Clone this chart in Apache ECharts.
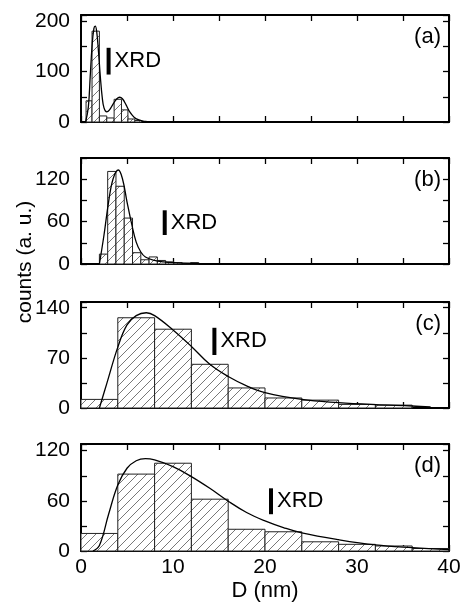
<!DOCTYPE html>
<html>
<head>
<meta charset="utf-8">
<script src="https://cdn.jsdelivr.net/npm/echarts@6/dist/echarts.min.js"></script>
<style>
  html, body { margin: 0; padding: 0; background: #fff; }
  #main { width: 464px; height: 604px; }
</style>
</head>
<body>
<div id="main"></div>
<script>
// histogram bins (edges) and counts
var aEdges = [0.55, 1.2, 2.0, 2.8, 3.6, 4.4, 5.1, 5.85, 6.6];
var aCounts = [42, 180, 12, 8, 45, 24, 6, 3];
var bEdges = [2.0, 2.9, 3.8, 4.7, 5.6, 6.5, 7.4, 8.3, 9.2, 10.1, 11.0, 11.9, 12.8];
var bCounts = [14, 131, 110, 65, 16, 6, 10, 5, 3, 2, 1, 2];
var cEdges = [0, 4, 8, 12, 16, 20, 24, 28, 32, 36];
var cCounts = [12, 126, 110, 61, 28, 14, 11, 5, 4];
var dEdges = [0, 4, 8, 12, 16, 20, 24, 28, 32, 36, 40];
var dCounts = [21, 92, 105, 62, 26, 23, 11, 8, 6, 3];

// fitted curves
var aFitX = [0.5, 0.8, 1.0, 1.2, 1.4, 1.55, 1.7, 1.9, 2.1, 2.3, 2.5, 2.8, 3.1, 3.5, 3.9, 4.2, 4.5, 4.9, 5.3, 5.8, 6.3, 7.0, 7.5];
var aFitY = [0, 30, 90, 150, 185, 190, 180, 140, 90, 50, 28, 20, 24, 36, 46, 49, 46, 34, 20, 9, 4, 1, 0];
var bFitX = [2.0, 2.5, 3.0, 3.5, 4.06, 4.5, 5.0, 5.5, 6.0, 6.5, 7.0, 8.0, 9.0, 10.0, 12.0, 14.0];
var bFitY = [0, 41, 88, 121, 133, 121, 88, 57, 31, 17, 10, 5, 3, 2, 1, 0.5];
var cFitX = [2.0, 2.8, 4, 5, 6, 7.1, 8, 10, 12, 14, 16, 18, 20, 24, 28, 32, 36, 38];
var cFitY = [0, 34, 85, 116, 129, 133, 129, 109, 86, 61, 44, 31, 21.5, 12, 7.5, 4.7, 2.8, 1.5];
var dFitX = [1.3, 2, 3, 4, 5, 6, 7, 8, 10, 12, 14, 16, 18, 20, 22, 24, 28, 32, 36, 40];
var dFitY = [0, 6.5, 44, 79, 99, 108, 110.6, 109, 101, 89, 75, 59.6, 46, 36, 28, 21.6, 13.5, 7.3, 4, 1.6];

// XRD markers
var xrdD = [3.0, 9.1, 14.5, 20.65];
var xrdLo = [94, 41, 74, 44];
var xrdHi = [147, 76, 112, 75];

var panelNames = ['(a)', '(b)', '(c)', '(d)'];
var yMax = [212, 150, 148, 128];
var yTickStep = [50, 30, 35, 30];
var yLabelStep = [100, 60, 70, 60];
var xTicks = [0, 10, 20, 30, 40];

var edges = [aEdges, bEdges, cEdges, dEdges];
var counts = [aCounts, bCounts, cCounts, dCounts];
var fitX = [aFitX, bFitX, cFitX, dFitX];
var fitY = [aFitY, bFitY, cFitY, dFitY];

var FONT = "'Liberation Sans', Arial, sans-serif";
var gridBoxes = [
  { top: 15, height: 107 },
  { top: 158, height: 106 },
  { top: 302, height: 106 },
  { top: 444, height: 107 }
];

// diagonal hatch pattern
function makeHatch() {
  var c = document.createElement("canvas");
  c.width = c.height = 9;
  var g = c.getContext("2d");
  g.fillStyle = "#fff";
  g.fillRect(0, 0, 9, 9);
  g.strokeStyle = "#555";
  g.lineWidth = 0.8;
  [0, 9, 18].forEach(function (k) {
    g.beginPath();
    g.moveTo(k + 1, -1);
    g.lineTo(k - 10, 10);
    g.stroke();
  });
  return c;
}
var hatch = makeHatch();

var grid = [], xAxis = [], yAxis = [], series = [], graphic = [];

gridBoxes.forEach(function (b, i) {
  grid.push({ left: 81, width: 368, top: b.top, height: b.height });
  var axLine = { onZero: false, lineStyle: { color: "#000", width: 2 } };
  var tick = { inside: true, length: 6, lineStyle: { color: "#000", width: 1.3 } };
  var last = i === 3;
  xAxis.push({
    gridIndex: i, type: "value", min: 0, max: 40, interval: 5, position: "bottom",
    axisLine: axLine, axisTick: tick, splitLine: { show: false },
    axisLabel: {
      show: last, margin: 6, color: "#000", fontSize: 21, fontFamily: FONT,
      formatter: function (v) { return xTicks.indexOf(v) >= 0 ? String(v) : ""; }
    }
  });
  xAxis.push({
    gridIndex: i, type: "value", min: 0, max: 40, interval: 5, position: "top",
    axisLine: axLine, axisTick: tick, splitLine: { show: false }, axisLabel: { show: false }
  });
  yAxis.push({
    gridIndex: i, type: "value", min: 0, max: yMax[i], interval: yTickStep[i], position: "left",
    axisLine: axLine, axisTick: tick, splitLine: { show: false },
    axisLabel: {
      margin: 11, color: "#000", fontSize: 21, fontFamily: FONT,
      formatter: function (v) { return v % yLabelStep[i] === 0 ? String(v) : ""; }
    }
  });
  yAxis.push({
    gridIndex: i, type: "value", min: 0, max: yMax[i], interval: yTickStep[i], position: "right",
    axisLine: axLine, axisTick: tick, splitLine: { show: false }, axisLabel: { show: false }
  });

  var bins = counts[i].map(function (n, k) { return [edges[i][k], edges[i][k + 1], n]; });
  series.push({
    type: "custom", xAxisIndex: 2 * i, yAxisIndex: 2 * i, data: bins,
    encode: { x: [0, 1], y: 2 }, silent: true,
    renderItem: function (params, api) {
      var p0 = api.coord([api.value(0), api.value(2)]);
      var p1 = api.coord([api.value(1), 0]);
      return {
        type: "rect",
        shape: { x: p0[0], y: p0[1], width: p1[0] - p0[0], height: p1[1] - p0[1] },
        style: { fill: { image: hatch, repeat: "repeat" }, stroke: "#222", lineWidth: 1 }
      };
    }
  });

  series.push({
    type: "line", xAxisIndex: 2 * i, yAxisIndex: 2 * i, smooth: 0.4, symbol: "none",
    lineStyle: { color: "#000", width: 1.3 }, z: 5, silent: true,
    data: fitX[i].map(function (x, k) { return [x, fitY[i][k]]; })
  });

  series.push({
    type: "line", xAxisIndex: 2 * i, yAxisIndex: 2 * i, symbol: "none", z: 6, silent: true,
    lineStyle: { color: "#000", width: 4 },
    data: [[xrdD[i], xrdLo[i]], [xrdD[i], xrdHi[i]]]
  });
  series.push({
    type: "scatter", xAxisIndex: 2 * i, yAxisIndex: 2 * i, symbolSize: 0, z: 6, silent: true,
    itemStyle: { opacity: 1 },
    label: { show: true, position: "right", distance: 6, formatter: "XRD", color: "#000", fontSize: 22, fontFamily: FONT },
    data: [[xrdD[i], (xrdLo[i] + xrdHi[i]) / 2]]
  });

  graphic.push({
    type: "text", x: 441, y: b.top + 22, silent: true,
    style: { text: panelNames[i], font: "22px " + FONT, fill: "#000", textAlign: "right", textVerticalAlign: "middle" }
  });
});

graphic.push({
  type: "text", x: 265, y: 591, silent: true,
  style: { text: "D (nm)", font: "22px " + FONT, fill: "#000", textAlign: "center", textVerticalAlign: "middle" }
});
graphic.push({
  type: "text", x: 25, y: 262, rotation: Math.PI / 2, silent: true,
  style: { text: "counts (a. u.)", font: "21px " + FONT, fill: "#000", textAlign: "center", textVerticalAlign: "middle" }
});

var chart = echarts.init(document.getElementById("main"));
chart.setOption({
  animation: false,
  backgroundColor: "#fff",
  grid: grid,
  xAxis: xAxis,
  yAxis: yAxis,
  series: series,
  graphic: graphic
});
</script>
</body>
</html>
